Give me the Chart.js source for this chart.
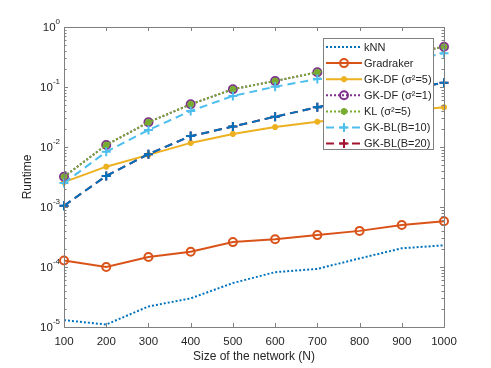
<!DOCTYPE html>
<html>
<head>
<meta charset="utf-8">
<script src="https://cdn.jsdelivr.net/npm/chart.js@4.4.0/dist/chart.umd.min.js"></script>
<style>
  html, body { margin: 0; background: #fff; }
  #wrap { width: 491px; height: 368px; }
</style>
</head>
<body>
<div id="wrap"><canvas id="chart"></canvas></div>
<script>
// values
const sizes = [100, 200, 300, 400, 500, 600, 700, 800, 900, 1000];
const knn       = [1.3e-5, 1.1e-5, 2.2e-5, 3.0e-5, 5.4e-5, 8.2e-5, 9.3e-5, 1.39e-4, 2.05e-4, 2.3e-4];
const gradraker = [1.28e-4, 1.0e-4, 1.47e-4, 1.8e-4, 2.6e-4, 2.9e-4, 3.4e-4, 4.0e-4, 5.0e-4, 5.8e-4];
const gkdf5     = [2.6e-3, 4.7e-3, 7.4e-3, 1.17e-2, 1.65e-2, 2.15e-2, 2.64e-2, 3.2e-2, 3.9e-2, 4.6e-2];
const gkdf1     = [3.2e-3, 1.08e-2, 2.58e-2, 5.15e-2, 9.2e-2, 0.126, 0.176, 0.25, 0.34, 0.47];
const kl5       = [3.2e-3, 1.08e-2, 2.58e-2, 5.15e-2, 9.2e-2, 0.126, 0.176, 0.25, 0.34, 0.47];
const gkbl10    = [2.5e-3, 8.3e-3, 1.92e-2, 3.98e-2, 7.1e-2, 0.101, 0.136, 0.19, 0.26, 0.365];
const gkbl20    = [1.05e-3, 3.3e-3, 7.6e-3, 1.52e-2, 2.19e-2, 3.2e-2, 4.6e-2, 6.5e-2, 8.8e-2, 0.118];
const gkbl20b   = [1.05e-3, 3.3e-3, 7.6e-3, 1.52e-2, 2.19e-2, 3.2e-2, 4.6e-2, 6.5e-2, 8.8e-2, 0.118];

const legendNames = ['kNN', 'Gradraker', 'GK-DF (\u03c3\u00b2=5)', 'GK-DF (\u03c3\u00b2=1)',
                     'KL (\u03c3\u00b2=5)', 'GK-BL(B=10)', 'GK-BL(B=20)'];
const yExponents = [-5, -4, -3, -2, -1, 0];

const FONT = "'Liberation Sans', Arial, Helvetica, sans-serif";
const TEXT = '#262626';
const AXIS = '#808080';

function pts(vals) {
    return sizes.map((x, i) => ({ x: x, y: vals[i] }));
}

function series(label, vals, color, dash, style, radius, idx) {
    return {
        label: label,
        data: pts(vals),
        borderColor: color,
        backgroundColor: color,
        borderWidth: 2,
        borderDash: dash,
        pointStyle: style,
        pointRadius: radius,
        pointBorderWidth: 2,
        pointBorderColor: color,
        pointBackgroundColor: style === 'circle' ? 'rgba(0,0,0,0)' : color,
        tension: 0,
        clip: 10,
        order: 20 - idx
    };
}

const datasets = [
    series(legendNames[0], knn, '#0072BD', [2, 2], false, 0, 0),
    series(legendNames[1], gradraker, '#D95319', [], 'circle', 4, 1),
    series(legendNames[2], gkdf5, '#EDB120', [], 'star', 3, 2),
    series(legendNames[3], gkdf1, '#7E2F8E', [2, 2], 'circle', 4, 3),
    series(legendNames[4], kl5, '#77AC30', [2, 2], 'star', 3.5, 4),
    series(legendNames[5], gkbl10, '#4DBEEE', [8, 5], 'cross', 4.5, 5),
    series(legendNames[6], gkbl20, '#A2142F', [8, 5], 'cross', 4.5, 6),
    series('', gkbl20b, '#0072BD', [8, 5], 'cross', 4.5, 7)
];

// box, inward ticks, y labels and legend
const axesPlugin = {
    id: 'axesPlugin',
    afterDraw(chart) {
        const ctx = chart.ctx;
        const a = chart.chartArea;
        const xs = chart.scales.x, ys = chart.scales.y;
        ctx.save();
        ctx.strokeStyle = AXIS;
        ctx.lineWidth = 1;
        ctx.setLineDash([]);
        ctx.strokeRect(a.left + 0.5, a.top + 0.5, a.right - a.left, a.bottom - a.top);

        ctx.beginPath();
        sizes.forEach(v => {
            const px = Math.round(xs.getPixelForValue(v)) + 0.5;
            ctx.moveTo(px, a.bottom); ctx.lineTo(px, a.bottom - 4);
            ctx.moveTo(px, a.top); ctx.lineTo(px, a.top + 4);
        });
        yExponents.forEach(e => {
            for (let m = 1; m <= 9; m++) {
                if (e === 0 && m > 1) break;
                const py = Math.round(ys.getPixelForValue(m * Math.pow(10, e))) + 0.5;
                const len = m === 1 ? 4 : 2.5;
                ctx.moveTo(a.left, py); ctx.lineTo(a.left + len, py);
                ctx.moveTo(a.right, py); ctx.lineTo(a.right - len, py);
            }
        });
        ctx.stroke();

        // y tick labels 10^n
        ctx.fillStyle = TEXT;
        ctx.textBaseline = 'middle';
        yExponents.forEach(e => {
            const py = ys.getPixelForValue(Math.pow(10, e));
            const exp = e === 0 ? '0' : '-' + Math.abs(e);
            ctx.font = '8px ' + FONT;
            const w = ctx.measureText(exp).width;
            const xr = a.left - 4;
            ctx.textAlign = 'left';
            ctx.fillText(exp, xr - w, py - 5);
            ctx.font = '11.5px ' + FONT;
            ctx.textAlign = 'right';
            ctx.fillText('10', xr - w, py + 1);
        });

        // legend
        const lx = 323, ly = 38, lw = 110, lh = 111;
        ctx.fillStyle = '#fff';
        ctx.fillRect(lx, ly, lw, lh);
        ctx.strokeStyle = AXIS;
        ctx.strokeRect(lx + 0.5, ly + 0.5, lw, lh);
        legendNames.forEach((name, i) => {
            const ds = chart.data.datasets[i];
            const cy = ly + 9 + i * 16.1;
            ctx.strokeStyle = ds.borderColor;
            ctx.fillStyle = ds.borderColor;
            ctx.lineWidth = 2;
            ctx.setLineDash(ds.borderDash);
            ctx.beginPath();
            ctx.moveTo(lx + 3, cy); ctx.lineTo(lx + 39, cy);
            ctx.stroke();
            ctx.setLineDash([]);
            if (ds.pointStyle) {
                ctx.fillStyle = ds.pointBackgroundColor;
                Chart.helpers.drawPoint(ctx, {
                    pointStyle: ds.pointStyle, radius: ds.pointRadius,
                    rotation: 0, borderWidth: 2
                }, lx + 21, cy);
            }
            ctx.fillStyle = TEXT;
            ctx.font = '11px ' + FONT;
            ctx.textAlign = 'left';
            ctx.textBaseline = 'middle';
            ctx.fillText(name, lx + 41, cy + 0.5);
        });
        ctx.restore();
    }
};

new Chart(document.getElementById('chart'), {
    type: 'line',
    data: { datasets: datasets },
    options: {
        responsive: true,
        maintainAspectRatio: false,
        animation: false,
        devicePixelRatio: 1,
        layout: { padding: { left: 0, right: 47, top: 27, bottom: 0 } },
        plugins: { legend: { display: false }, tooltip: { enabled: false } },
        scales: {
            x: {
                type: 'linear',
                min: 100,
                max: 1000,
                afterBuildTicks: s => { s.ticks = sizes.map(v => ({ value: v })); },
                afterFit: s => { s.height = 41; },
                grid: { display: false, drawTicks: false },
                border: { display: false },
                ticks: {
                    padding: 8,
                    maxRotation: 0,
                    color: TEXT,
                    font: { family: FONT, size: 11.5 },
                    callback: v => String(v)
                },
                title: {
                    display: true,
                    text: 'Size of the network (N)',
                    color: TEXT,
                    font: { family: FONT, size: 12 },
                    padding: { top: 0, bottom: 4 }
                }
            },
            y: {
                type: 'logarithmic',
                min: 1e-5,
                max: 1,
                afterFit: s => { s.width = 64; },
                grid: { display: false, drawTicks: false },
                border: { display: false },
                ticks: { display: false },
                title: {
                    display: true,
                    text: 'Runtime',
                    color: TEXT,
                    font: { family: FONT, size: 12 },
                    padding: { top: 20, bottom: 0 }
                }
            }
        }
    },
    plugins: [axesPlugin]
});
</script>
</body>
</html>
